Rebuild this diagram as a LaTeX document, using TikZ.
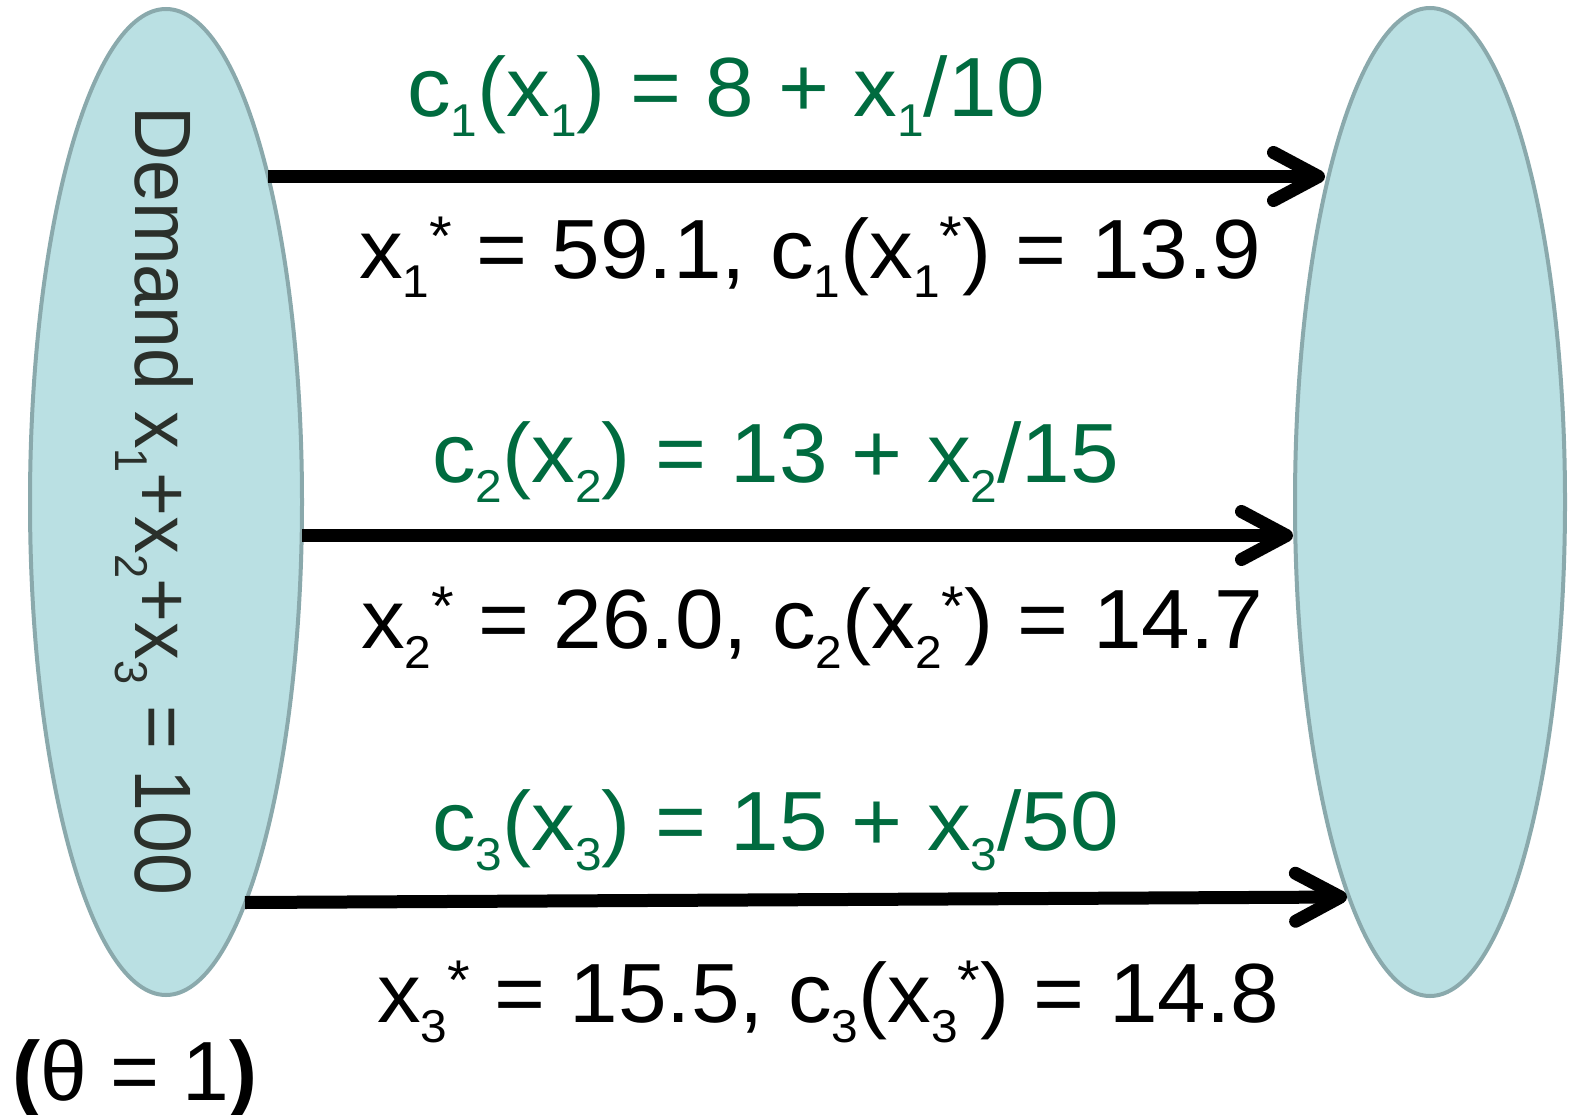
\documentclass[tikz,border=0pt]{standalone}
\usepackage{fontspec}
\setmainfont{Liberation Sans}
\usetikzlibrary{arrows.meta,shapes.geometric}
\definecolor{efill}{HTML}{BAE0E3}
\definecolor{edraw}{HTML}{8AA9AC}
\definecolor{fgreen}{HTML}{006B3F}
\definecolor{vtext}{HTML}{2B302B}
\newcommand\sbx[1]{\raisebox{-20pt}{\fontsize{46}{46}\selectfont #1}}
\newcommand\spx[1]{\raisebox{23pt}{\fontsize{56}{56}\selectfont #1}}
\newcommand\hw[1]{\scalebox{1.04}[1]{#1}}
\begin{document}
\begin{tikzpicture}[x=1pt,y=1pt,
  oval/.style={ellipse, draw=edraw, fill=efill, line width=4pt, inner sep=0pt, outer sep=0pt},
  flow/.style={line width=13pt, -{Straight Barb[length=45pt,width=48pt,line cap=round,line join=round]}},
  lbl/.style={anchor=base west, inner sep=0pt, font=\fontsize{84}{100}\selectfont},
  cost/.style={lbl, text=fgreen},
  vert/.style={anchor=base west, inner sep=0pt, rotate=-90, text=vtext, font=\fontsize{80}{96}\selectfont}]
\useasboundingbox (0,0) rectangle (1573,-1115);
\node[oval, minimum width=272pt, minimum height=986pt] (L) at (166,-502) {};
\node[oval, minimum width=270pt, minimum height=988pt] (R) at (1430,-502) {};
\node[vert] (dem) at (135,-106) {\scalebox{0.94}[1]{Demand x\sbx{1}+x\sbx{2}+x\sbx{3} = 100}};
\coordinate (s1) at (268,-176.5);
\coordinate (e1) at (1325,-176.5);
\coordinate (s2) at (302,-535.5);
\coordinate (e2) at (1293,-535.5);
\coordinate (s3) at (245,-902.5);
\coordinate (e3) at (1347,-897);
\draw[flow] (s1) -- (e1);
\draw[flow] (s2) -- (e2);
\draw[flow] (s3) -- (e3);
\node[cost] (g1) at (407,-117) {\hw{c\sbx{1}(x\sbx{1}) = 8 + x\sbx{1}/10}};
\node[lbl] (b1) at (359,-278) {\hw{x\sbx{1}\spx{*} = 59.1, c\sbx{1}(x\sbx{1}\spx{*}) = 13.9}};
\node[cost] (g2) at (432,-482) {\hw{c\sbx{2}(x\sbx{2}) = 13 + x\sbx{2}/15}};
\node[lbl] (b2) at (361,-648) {\hw{x\sbx{2}\spx{*} = 26.0, c\sbx{2}(x\sbx{2}\spx{*}) = 14.7}};
\node[cost] (g3) at (432,-850) {\hw{c\sbx{3}(x\sbx{3}) = 15 + x\sbx{3}/50}};
\node[lbl] (b3) at (377,-1022) {\hw{x\sbx{3}\spx{*} = 15.5, c\sbx{3}(x\sbx{3}\spx{*}) = 14.8}};
\node[lbl] (theta) at (12,-1100) {\textbf{(}θ = 1\textbf{)}};
\end{tikzpicture}
\end{document}
